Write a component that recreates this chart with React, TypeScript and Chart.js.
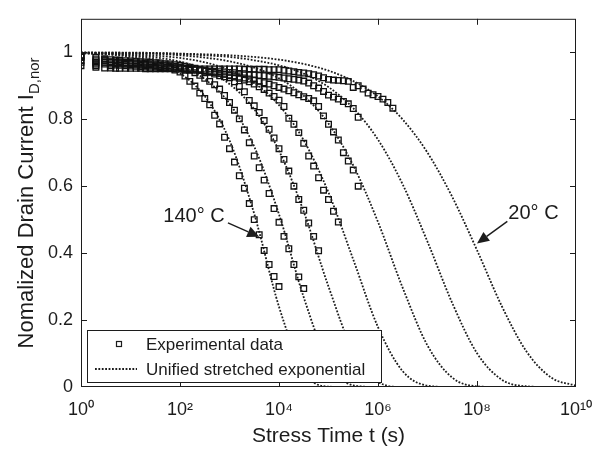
import React, { useEffect, useRef } from "react";
import { Chart, registerables } from "chart.js";

Chart.register(...registerables);

// ---- data ----
const expTimes = [
  1, 2, 3, 4, 5, 6, 8, 10, 13, 16, 20, 25, 32, 40, 50, 63, 79,
  100, 126, 158, 200, 251, 316, 398, 501, 631, 794,
  1000, 1260, 1580, 2000, 2510, 3160, 3980, 5010, 6310, 7940,
  10000, 12600, 15800, 20000, 25100, 31600, 39800, 50100, 63100, 79400,
  100000, 126000, 158000, 200000, 251000, 316000, 398000, 501000, 631000, 794000,
  1000000, 1260000, 1580000, 2000000,
];

const exp140 = [0.99, 0.98, 0.975, 0.97, 0.97, 0.968, 0.967, 0.966, 0.965, 0.964, 0.963, 0.962, 0.96, 0.958, 0.955, 0.952, 0.947, 0.941, 0.929, 0.913, 0.899, 0.878, 0.862, 0.843, 0.812, 0.786, 0.746, 0.712, 0.672, 0.631, 0.594, 0.548, 0.5, 0.455, 0.408, 0.366, 0.33, 0.3];
const exp120 = [0.985, 0.975, 0.98, 0.972, 0.975, 0.972, 0.97, 0.97, 0.969, 0.968, 0.967, 0.966, 0.965, 0.963, 0.962, 0.96, 0.958, 0.955, 0.951, 0.946, 0.939, 0.931, 0.922, 0.913, 0.903, 0.89, 0.871, 0.85, 0.827, 0.801, 0.768, 0.73, 0.69, 0.655, 0.618, 0.578, 0.533, 0.492, 0.45, 0.413, 0.366, 0.329, 0.294];
const exp100 = [0.99, 0.985, 0.98, 0.978, 0.977, 0.976, 0.975, 0.974, 0.973, 0.972, 0.971, 0.97, 0.969, 0.968, 0.966, 0.965, 0.963, 0.961, 0.958, 0.955, 0.952, 0.948, 0.944, 0.94, 0.935, 0.93, 0.927, 0.924, 0.912, 0.898, 0.882, 0.856, 0.84, 0.82, 0.796, 0.77, 0.744, 0.712, 0.68, 0.645, 0.6, 0.56, 0.528, 0.49, 0.45, 0.407];
const exp80 = [0.985, 0.97, 0.975, 0.97, 0.97, 0.969, 0.968, 0.967, 0.966, 0.965, 0.964, 0.963, 0.962, 0.961, 0.96, 0.958, 0.957, 0.955, 0.953, 0.951, 0.949, 0.947, 0.945, 0.942, 0.94, 0.937, 0.934, 0.93, 0.926, 0.922, 0.917, 0.912, 0.905, 0.897, 0.889, 0.878, 0.868, 0.857, 0.838, 0.803, 0.785, 0.76, 0.728, 0.69, 0.66, 0.625, 0.588, 0.56, 0.525, 0.493];
const exp60 = [0.975, 0.965, 0.97, 0.965, 0.966, 0.965, 0.964, 0.963, 0.962, 0.961, 0.96, 0.959, 0.958, 0.957, 0.956, 0.955, 0.954, 0.953, 0.951, 0.95, 0.948, 0.946, 0.944, 0.942, 0.94, 0.937, 0.935, 0.932, 0.929, 0.926, 0.923, 0.92, 0.917, 0.913, 0.909, 0.905, 0.9, 0.895, 0.89, 0.885, 0.879, 0.873, 0.867, 0.862, 0.855, 0.838, 0.81, 0.785, 0.762, 0.738, 0.7, 0.675, 0.648, 0.6];
const exp40 = [0.97, 0.96, 0.965, 0.96, 0.962, 0.961, 0.96, 0.959, 0.958, 0.957, 0.956, 0.955, 0.955, 0.954, 0.953, 0.952, 0.951, 0.95, 0.949, 0.948, 0.947, 0.946, 0.945, 0.944, 0.943, 0.942, 0.941, 0.94, 0.939, 0.937, 0.936, 0.934, 0.933, 0.931, 0.93, 0.928, 0.927, 0.925, 0.923, 0.921, 0.919, 0.917, 0.914, 0.908, 0.9, 0.893, 0.883, 0.872, 0.866, 0.86, 0.853, 0.846, 0.832, 0.806];
const exp20 = [0.96, 0.955, 0.953, 0.953, 0.952, 0.952, 0.952, 0.952, 0.952, 0.952, 0.951, 0.951, 0.951, 0.951, 0.951, 0.951, 0.951, 0.951, 0.951, 0.951, 0.95, 0.95, 0.95, 0.95, 0.95, 0.95, 0.95, 0.95, 0.95, 0.95, 0.949, 0.949, 0.949, 0.949, 0.949, 0.948, 0.948, 0.948, 0.946, 0.944, 0.942, 0.94, 0.938, 0.936, 0.933, 0.929, 0.924, 0.919, 0.917, 0.916, 0.915, 0.913, 0.895, 0.9, 0.89, 0.878, 0.873, 0.868, 0.86, 0.85, 0.833];

const fitTimes = [1, 3.16, 10, 31.6, 100, 316, 1e3, 3.16e3, 1e4, 3.16e4, 1e5, 3.16e5, 1e6, 3.16e6, 1e7, 3.16e7, 1e8, 3.16e8, 1e9, 3.16e9, 1e10];
const fit140 = [0.997, 0.994, 0.986, 0.97, 0.937, 0.869, 0.737, 0.517, 0.24, 0.046, 0.001, 0, 0, 0, 0, 0, 0, 0, 0, 0, 0];
const fit120 = [0.997, 0.995, 0.99, 0.979, 0.959, 0.92, 0.847, 0.718, 0.516, 0.268, 0.072, 0.005, 0, 0, 0, 0, 0, 0, 0, 0, 0];
const fit100 = [0.998, 0.996, 0.992, 0.985, 0.972, 0.948, 0.905, 0.83, 0.706, 0.524, 0.3, 0.106, 0.015, 0, 0, 0, 0, 0, 0, 0, 0];
const fit80 = [0.998, 0.997, 0.995, 0.99, 0.983, 0.97, 0.947, 0.908, 0.842, 0.737, 0.581, 0.381, 0.179, 0.047, 0.004, 0, 0, 0, 0, 0, 0];
const fit60 = [0.999, 0.998, 0.997, 0.995, 0.991, 0.984, 0.973, 0.954, 0.922, 0.87, 0.787, 0.662, 0.493, 0.296, 0.124, 0.028, 0.002, 0, 0, 0, 0];
const fit40 = [0.999, 0.999, 0.998, 0.997, 0.995, 0.991, 0.986, 0.976, 0.961, 0.936, 0.896, 0.833, 0.739, 0.605, 0.434, 0.251, 0.101, 0.022, 0.002, 0, 0];
const fit20 = [0.999, 0.999, 0.999, 0.998, 0.996, 0.994, 0.991, 0.986, 0.978, 0.965, 0.945, 0.914, 0.868, 0.799, 0.7, 0.568, 0.409, 0.242, 0.106, 0.028, 0.004];

const expSeries = [exp140, exp120, exp100, exp80, exp60, exp40, exp20];
const fitSeries = [fit140, fit120, fit100, fit80, fit60, fit40, fit20];

const xTickValues = [1, 1e2, 1e4, 1e6, 1e8, 1e10];
const yTickValues = [0, 0.2, 0.4, 0.6, 0.8, 1];

const legendLabels = ["Experimental data", "Unified stretched exponential"];
const xTitle = "Stress Time t (s)";
const yTitleMain = "Nomalized Drain Current I";
const yTitleSub = "D,nor";

const annotations = [
  { label: "140\u00B0 C", textT: 46, textY: 0.493, tailT: 930, tailY: 0.49, tipT: 4000, tipY: 0.449 },
  { label: "20\u00B0 C", textT: 4.3e8, textY: 0.501, tailT: 4.1e8, tailY: 0.495, tipT: 1e8, tipY: 0.429 },
];

const FONT = "'Liberation Sans', Arial, Helvetica, sans-serif";
const INK = "#1c1c1c";

const SUP = ["\u2070", "\u00B9", "\u00B2", "\u00B3", "\u2074", "\u2075", "\u2076", "\u2077", "\u2078", "\u2079"];
function supLabel(v: number) {
  const e = Math.round(Math.log10(v));
  return "10" + String(e).split("").map((d) => SUP[Number(d)]).join("");
}

const decorPlugin = {
  id: "decor",
  afterDatasetsDraw(chart: any) {
    const { ctx, chartArea: a, scales } = chart;
    const x = scales.x;
    const y = scales.y;
    ctx.save();
    ctx.strokeStyle = INK;
    ctx.lineWidth = 1;
    ctx.setLineDash([]);
    // frame
    ctx.strokeRect(a.left + 0.5, a.top + 0.5, a.right - a.left - 1, a.bottom - a.top - 1);
    // inward ticks
    ctx.beginPath();
    xTickValues.slice(1, -1).forEach((v) => {
      const px = Math.round(x.getPixelForValue(v)) + 0.5;
      ctx.moveTo(px, a.bottom);
      ctx.lineTo(px, a.bottom - 6);
      ctx.moveTo(px, a.top);
      ctx.lineTo(px, a.top + 6);
    });
    yTickValues.slice(1).forEach((v) => {
      const py = Math.round(y.getPixelForValue(v)) + 0.5;
      ctx.moveTo(a.left, py);
      ctx.lineTo(a.left + 6, py);
      ctx.moveTo(a.right, py);
      ctx.lineTo(a.right - 6, py);
    });
    ctx.stroke();

    // annotations
    ctx.fillStyle = INK;
    ctx.font = `20px ${FONT}`;
    ctx.textBaseline = "alphabetic";
    ctx.textAlign = "left";
    annotations.forEach((an) => {
      const tx = x.getPixelForValue(an.textT);
      const ty = y.getPixelForValue(an.textY);
      ctx.fillText(an.label, tx, ty);
      const x0 = x.getPixelForValue(an.tailT);
      const y0 = y.getPixelForValue(an.tailY);
      const x1 = x.getPixelForValue(an.tipT);
      const y1 = y.getPixelForValue(an.tipY);
      const ang = Math.atan2(y1 - y0, x1 - x0);
      const hl = 12;
      const hw = 5.5;
      const bx = x1 - hl * Math.cos(ang);
      const by = y1 - hl * Math.sin(ang);
      ctx.beginPath();
      ctx.lineWidth = 1.4;
      ctx.moveTo(x0, y0);
      ctx.lineTo(bx, by);
      ctx.stroke();
      ctx.beginPath();
      ctx.moveTo(x1, y1);
      ctx.lineTo(bx + hw * Math.sin(ang), by - hw * Math.cos(ang));
      ctx.lineTo(bx - hw * Math.sin(ang), by + hw * Math.cos(ang));
      ctx.closePath();
      ctx.fill();
    });

    // legend box
    const lw = 294;
    const lh = 52;
    const lx = a.left + 6;
    const ly = a.bottom - 5 - lh;
    ctx.fillStyle = "#ffffff";
    ctx.fillRect(lx, ly, lw, lh);
    ctx.lineWidth = 1;
    ctx.strokeStyle = INK;
    ctx.strokeRect(lx + 0.5, ly + 0.5, lw, lh);
    // marker
    ctx.lineWidth = 1.2;
    ctx.strokeRect(lx + 32 - 2.5, ly + 14 - 2.5, 5, 5);
    // dotted line sample
    ctx.beginPath();
    ctx.setLineDash([1.8, 1.6]);
    ctx.lineWidth = 1.8;
    ctx.moveTo(lx + 8, ly + 39);
    ctx.lineTo(lx + 50, ly + 39);
    ctx.stroke();
    ctx.setLineDash([]);
    ctx.fillStyle = INK;
    ctx.font = `17px ${FONT}`;
    ctx.textBaseline = "middle";
    ctx.fillText(legendLabels[0], lx + 59, ly + 15);
    ctx.fillText(legendLabels[1], lx + 59, ly + 40);

    // y title with subscript
    ctx.save();
    ctx.translate(33, (a.top + a.bottom) / 2);
    ctx.rotate(-Math.PI / 2);
    ctx.textBaseline = "alphabetic";
    ctx.textAlign = "left";
    ctx.font = `22px ${FONT}`;
    const wMain = ctx.measureText(yTitleMain).width;
    ctx.font = `15px ${FONT}`;
    const wSub = ctx.measureText(yTitleSub).width;
    const start = -(wMain + wSub) / 2;
    ctx.font = `22px ${FONT}`;
    ctx.fillText(yTitleMain, start, 0);
    ctx.font = `15px ${FONT}`;
    ctx.fillText(yTitleSub, start + wMain, 5.5);
    ctx.restore();

    ctx.restore();
  },
};

export default function App() {
  const canvasRef = useRef<HTMLCanvasElement | null>(null);

  useEffect(() => {
    document.body.style.margin = "0";
    const canvas = canvasRef.current;
    if (!canvas) return;

    const datasets: any[] = [];
    fitSeries.forEach((ys) => {
      datasets.push({
        type: "line",
        data: ys.map((v, i) => ({ x: fitTimes[i], y: v })),
        showLine: true,
        borderColor: INK,
        borderWidth: 1.8,
        borderDash: [1.8, 1.6],
        pointRadius: 0,
        fill: false,
        cubicInterpolationMode: "monotone",
      });
    });
    expSeries.forEach((ys) => {
      datasets.push({
        type: "scatter",
        data: ys.map((v, i) => ({ x: expTimes[i], y: v })),
        showLine: false,
        pointStyle: "rect",
        pointRadius: 4,
        pointBorderWidth: 1.3,
        pointBorderColor: "#111111",
        pointBackgroundColor: "rgba(0,0,0,0)",
      });
    });

    const chart = new Chart(canvas, {
      type: "scatter",
      data: { datasets },
      options: {
        responsive: false,
        animation: false,
        events: [],
        layout: { padding: { top: 6, right: 31, left: 0, bottom: 0 } },
        plugins: { legend: { display: false }, tooltip: { enabled: false } },
        scales: {
          x: {
            type: "logarithmic",
            min: 1,
            max: 1e10,
            afterBuildTicks: (s: any) => {
              s.ticks = xTickValues.map((v) => ({ value: v }));
            },
            afterFit: (s: any) => {
              s.height = 63;
            },
            grid: { display: false, drawTicks: false },
            border: { display: false },
            ticks: {
              callback: (v: any) => supLabel(Number(v)),
              font: { family: FONT, size: 18 },
              color: INK,
              padding: 12,
              maxRotation: 0,
              autoSkip: false,
            },
            title: {
              display: true,
              text: xTitle,
              font: { family: FONT, size: 21 },
              color: INK,
              padding: { top: 0, bottom: 1 },
            },
          },
          y: {
            type: "linear",
            min: 0,
            max: 1.1,
            afterBuildTicks: (s: any) => {
              s.ticks = yTickValues.map((v) => ({ value: v }));
            },
            afterFit: (s: any) => {
              s.width = 81;
            },
            grid: { display: false, drawTicks: false },
            border: { display: false },
            ticks: {
              callback: (v: any) => String(Number(Number(v).toFixed(1))),
              font: { family: FONT, size: 18 },
              color: INK,
              padding: 8,
            },
          },
        },
      },
      plugins: [decorPlugin],
    } as any);

    return () => chart.destroy();
  }, []);

  return (
    <div style={{ position: "relative", width: 607, height: 450 }}>
      <canvas ref={canvasRef} width={607} height={450} style={{ display: "block" }} />
    </div>
  );
}
